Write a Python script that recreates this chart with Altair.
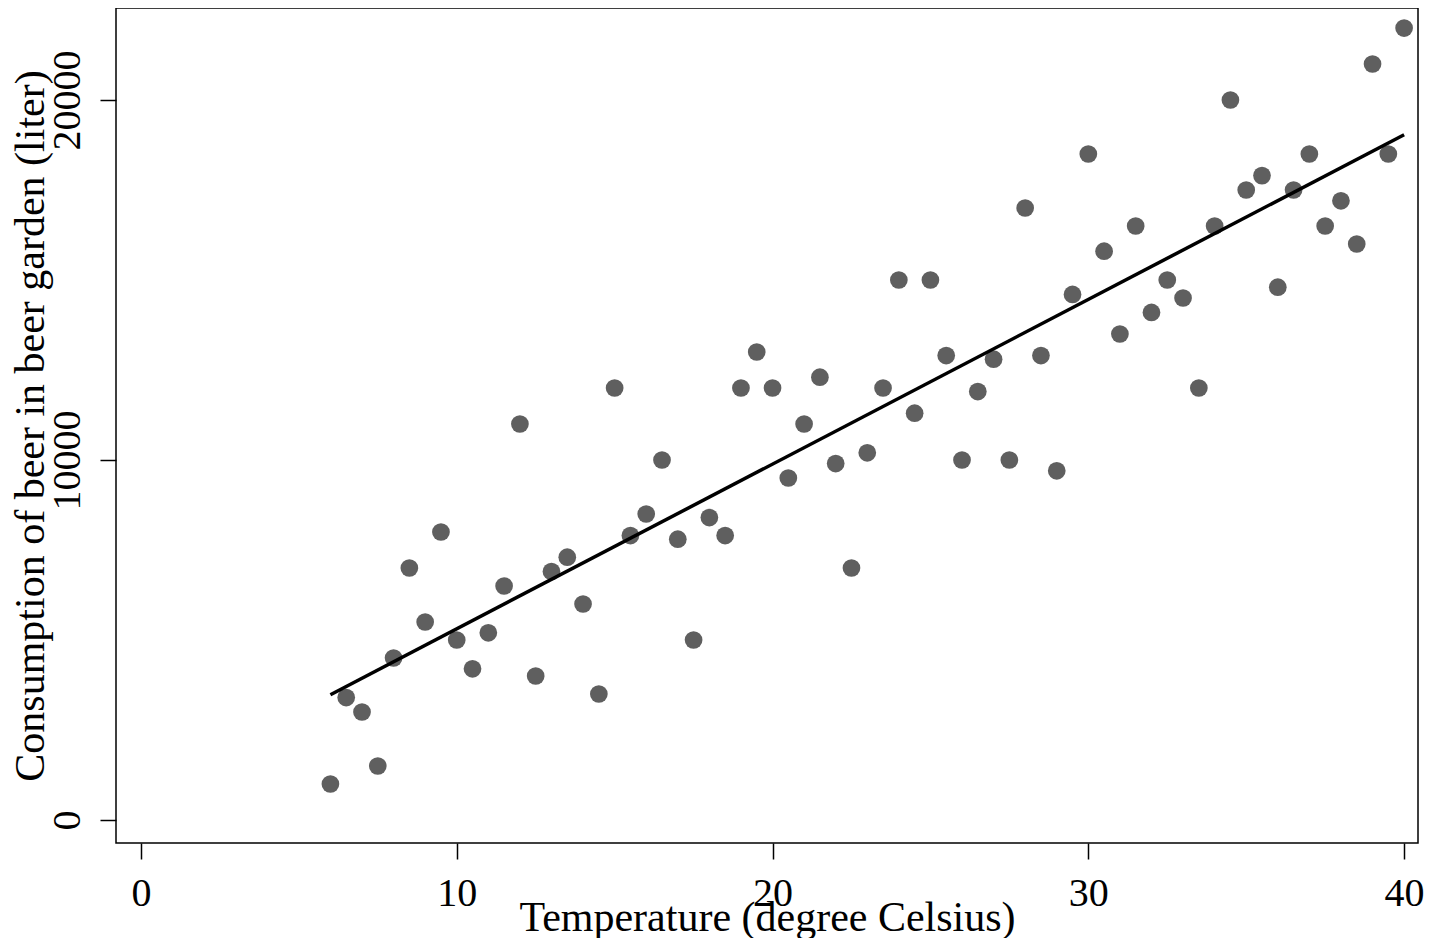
import altair as alt
import pandas as pd

temperature = [6, 6.5, 7, 7.5, 8, 8.5, 9, 9.5, 10, 10.5, 11, 11.5, 12, 12.5, 13, 13.5,
               14, 14.5, 15, 15.5, 16, 16.5, 17, 17.5, 18, 18.5, 19, 19.5, 20, 20.5,
               21, 21.5, 22, 22.5, 23, 23.5, 24, 24.5, 25, 25.5, 26, 26.5, 27, 27.5,
               28, 28.5, 29, 29.5, 30, 30.5, 31, 31.5, 32, 32.5, 33, 33.5, 34, 34.5,
               35, 35.5, 36, 36.5, 37, 37.5, 38, 38.5, 39, 39.5, 40]
beer = [1000, 3400, 3000, 1500, 4500, 7000, 5500, 8000, 5000, 4200, 5200, 6500,
        11000, 4000, 6900, 7300, 6000, 3500, 12000, 7900, 8500, 10000, 7800, 5000,
        8400, 7900, 12000, 13000, 12000, 9500, 11000, 12300, 9900, 7000, 10200,
        12000, 15000, 11300, 15000, 12900, 10000, 11900, 12800, 10000, 17000,
        12900, 9700, 14600, 18500, 15800, 13500, 16500, 14100, 15000, 14500,
        12000, 16500, 20000, 17500, 17900, 14800, 17500, 18500, 16500, 17200,
        16000, 21000, 18500, 22000]
x_ticks = [0, 10, 20, 30, 40]
y_ticks = [0, 10000, 20000]

df = pd.DataFrame({"temp": temperature, "beer": beer})

FONT = "Liberation Serif"
FS = 40
TFS = 42

xscale = alt.Scale(domain=[-0.79, 40.44], nice=False, zero=False)
yscale = alt.Scale(domain=[-639, 22556], nice=False, zero=False)

xaxis = alt.Axis(values=x_ticks, title="Temperature (degree Celsius)", grid=False,
                 domain=False, tickColor="black", tickWidth=1.5, tickSize=16,
                 labelFont=FONT, labelFontSize=FS, labelColor="black", labelPadding=14,
                 format="d",
                 titleFont=FONT, titleFontSize=TFS, titleFontWeight="normal",
                 titleColor="black", titleY=87, titleBaseline="alphabetic")
yaxis = alt.Axis(values=y_ticks, title="Consumption of beer in beer garden (liter)",
                 grid=False, domain=False, tickColor="black", tickWidth=1.5, tickSize=16,
                 labelFont=FONT, labelFontSize=FS, labelColor="black", labelAngle=-90,
                 labelPadding=13, labelBaseline="bottom", labelAlign="center",
                 format="d",
                 titleFont=FONT, titleFontSize=TFS, titleFontWeight="normal",
                 titleColor="black", titleX=-86, titleBaseline="middle", titleAngle=-90)

base = alt.Chart(df)

points = base.mark_circle(size=314, color="#5f5f5f", opacity=1).encode(
    x=alt.X("temp:Q", scale=xscale, axis=xaxis),
    y=alt.Y("beer:Q", scale=yscale, axis=yaxis),
)

fit = base.transform_regression("temp", "beer").mark_line(
    color="black", strokeWidth=3.5
).encode(
    x=alt.X("temp:Q", scale=xscale),
    y=alt.Y("beer:Q", scale=yscale),
)

chart = alt.layer(points, fit).properties(
    width=1302, height=835,
    autosize=alt.AutoSizeParams(type="none"),
    padding={"left": 108, "top": 0, "right": 7, "bottom": 95},
).configure(background="white").configure_view(stroke="black", strokeWidth=1.5)

chart.save("out.html", embed_options={"renderer": "svg", "actions": False})
